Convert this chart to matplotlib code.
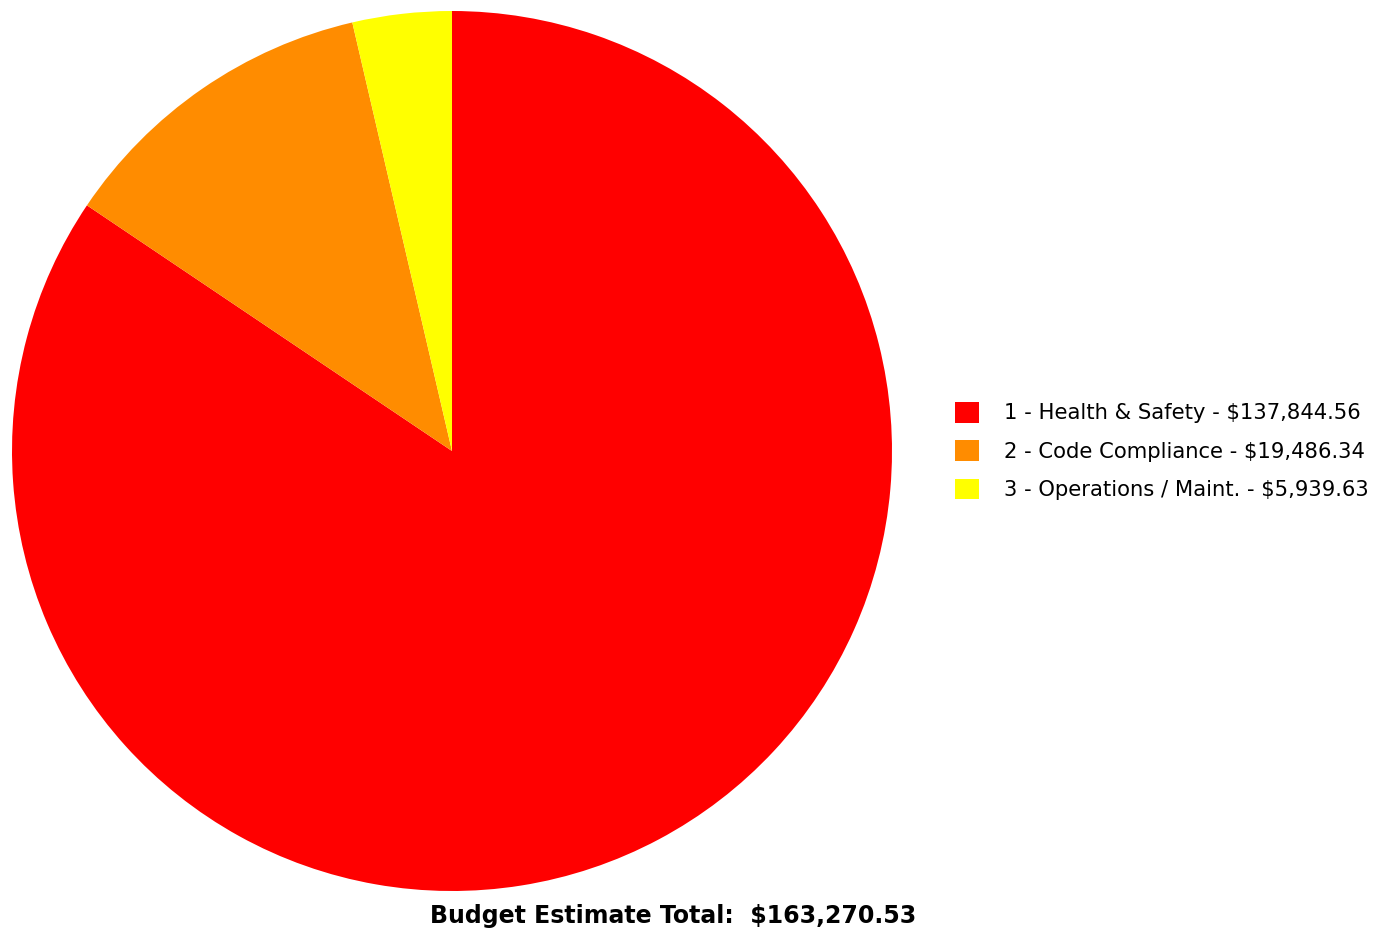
import matplotlib.pyplot as plt

# Budget estimate by priority category
categorias = ['1 - Health & Safety', '2 - Code Compliance', '3 - Operations / Maint.']
valores = [137844.56, 19486.34, 5939.63]
cores = ['#ff0000', '#ff8c00', '#ffff00']

total = sum(valores)
rotulos = ['%s - $%s' % (c, format(v, ',.2f')) for c, v in zip(categorias, valores)]

W, H = 1377, 931
fig = plt.figure(figsize=(W / 100, H / 100), dpi=100)
plt.rcParams['font.family'] = ['DejaVu Sans']

# Pie area: center ~(452, 451), radius ~440 px
ax = fig.add_axes([12 / W, (H - 891) / H, 880 / W, 880 / H])
fatias, _ = ax.pie(valores, colors=cores, startangle=90, counterclock=False,
                   wedgeprops=dict(linewidth=0))
ax.set_xlim(-1, 1)
ax.set_ylim(-1, 1)
ax.set_aspect('equal')
ax.axis('off')

fig.legend(fatias, rotulos, loc='center left', bbox_to_anchor=(955 / W, (H - 451) / H),
           frameon=False, fontsize=15.2,
           handlelength=1.13, handleheight=1.13,
           handletextpad=1.2, labelspacing=0.8, borderpad=0, borderaxespad=0)

fig.text(673 / W, (H - 916) / H, 'Budget Estimate Total:  $%s' % format(total, ',.2f'),
         ha='center', va='center', fontsize=17, fontweight='bold')

fig.savefig('out.png', dpi=100)
